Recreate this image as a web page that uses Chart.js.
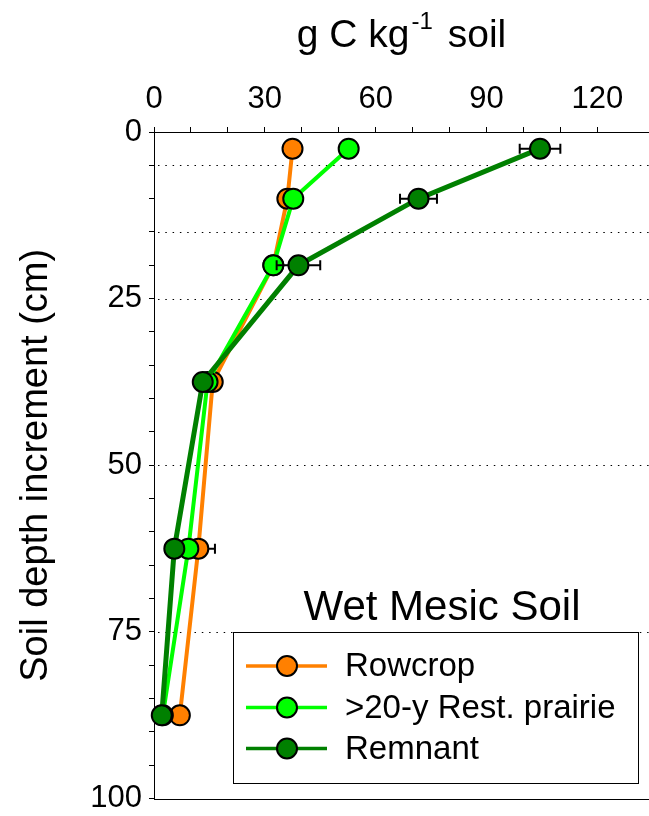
<!DOCTYPE html>
<html>
<head>
<meta charset="utf-8">
<script src="https://cdn.jsdelivr.net/npm/chart.js@4/dist/chart.umd.min.js"></script>
<style>
  html, body { margin: 0; padding: 0; background: #ffffff; }
  canvas { display: block; }
</style>
</head>
<body>
<canvas id="soilC" width="649" height="816"></canvas>
<script>
// Soil carbon (g C per kg soil) by depth increment, wet mesic soil
const depthMidpoints = [2.5, 10, 20, 37.5, 62.5, 87.5];
const incrementBoundaries = [5, 15, 25, 50, 75];
const seriesNames = ['Rowcrop', '>20-y Rest. prairie', 'Remnant'];
const rowcropC = [37.5, 36.1, 32.3, 15.9, 12.0, 7.0];
const prairieC = [52.7, 37.7, 32.3, 14.5, 9.3, 2.4];
const remnantC = [104.5, 71.6, 39.1, 13.2, 5.5, 2.1];
const rowcropErr = [0, 0, 0, 0, 4.5, 0];
const prairieErr = [0, 0, 0, 0, 0, 0];
const remnantErr = [5.5, 5.0, 5.9, 0, 0, 0];
const xTickLabels = [0, 30, 60, 90, 120];
const yTickLabels = [0, 25, 50, 75, 100];

const seriesColors = ['#FF8000', '#00FF00', '#008000'];
const seriesValues = [rowcropC, prairieC, remnantC];
const seriesErrors = [rowcropErr, prairieErr, remnantErr];
const lineWidths = [4, 4, 5];
const FONT = '"Liberation Sans", Arial, Helvetica, sans-serif';

const toPoints = vals => vals.map((v, i) => ({ x: v, y: depthMidpoints[i] }));

const datasets = seriesNames.map((name, i) => ({
  label: name,
  data: toPoints(seriesValues[i]),
  showLine: true,
  borderColor: seriesColors[i],
  borderWidth: lineWidths[i],
  backgroundColor: seriesColors[i],
  pointBackgroundColor: seriesColors[i],
  pointBorderColor: '#000000',
  pointBorderWidth: 2,
  pointRadius: 10,
  pointHoverRadius: 10,
  tension: 0,
  order: 3 - i,           // later series are painted on top
  clip: false
}));

const decor = {
  id: 'decor',
  beforeDatasetsDraw(chart) {
    const { ctx, chartArea: a, scales: { y } } = chart;
    ctx.save();
    // dotted lines at depth increment boundaries
    ctx.strokeStyle = '#000000';
    ctx.lineWidth = 1;
    ctx.setLineDash([1.5, 5.8]);
    incrementBoundaries.forEach(d => {
      const py = Math.round(y.getPixelForValue(d)) + 0.5;
      ctx.beginPath();
      ctx.moveTo(a.left + 4, py);
      ctx.lineTo(a.right, py);
      ctx.stroke();
    });
    ctx.setLineDash([]);
    // bottom frame line
    const pb = Math.round(y.getPixelForValue(100)) + 0.5;
    ctx.beginPath();
    ctx.moveTo(a.left, pb);
    ctx.lineTo(a.right, pb);
    ctx.stroke();
    ctx.restore();
  },
  beforeDatasetDraw(chart, args) {
    // horizontal error bars, beneath this series' own markers
    const errs = seriesErrors[args.index];
    const vals = seriesValues[args.index];
    const { ctx, scales: { x, y } } = chart;
    ctx.save();
    ctx.strokeStyle = '#000000';
    ctx.lineWidth = 2;
    errs.forEach((e, j) => {
      if (!e) return;
      const py = y.getPixelForValue(depthMidpoints[j]);
      const x1 = x.getPixelForValue(vals[j] - e);
      const x2 = x.getPixelForValue(vals[j] + e);
      ctx.beginPath();
      ctx.moveTo(x1, py); ctx.lineTo(x2, py);
      ctx.moveTo(x1, py - 5); ctx.lineTo(x1, py + 5);
      ctx.moveTo(x2, py - 5); ctx.lineTo(x2, py + 5);
      ctx.stroke();
    });
    ctx.restore();
  },
  afterDatasetsDraw(chart) {
    const { ctx, chartArea: a, scales: { y } } = chart;
    ctx.save();
    // panel label
    ctx.fillStyle = '#000000';
    ctx.font = '42px ' + FONT;
    ctx.textAlign = 'center';
    ctx.textBaseline = 'alphabetic';
    ctx.fillText('Wet Mesic Soil', a.right - 207, 620);

    // legend box
    const bl = a.left + 79, br = a.right - 11;
    const bt = Math.round(y.getPixelForValue(75)) + 0.5, bb = a.bottom - 15.5;
    ctx.fillStyle = '#ffffff';
    ctx.fillRect(bl, bt, br - bl, bb - bt);
    ctx.strokeStyle = '#000000';
    ctx.lineWidth = 1;
    ctx.strokeRect(Math.round(bl) + 0.5, bt, Math.round(br - bl), Math.round(bb - bt));

    const rowY = [bt + 33.5, bt + 75, bt + 116];
    const lx1 = bl + 13, lx2 = bl + 94, mx = bl + 54, tx = bl + 112;
    seriesNames.forEach((name, i) => {
      const ry = rowY[i];
      ctx.strokeStyle = seriesColors[i];
      ctx.lineWidth = 3.5;
      ctx.beginPath();
      ctx.moveTo(lx1, ry); ctx.lineTo(lx2, ry);
      ctx.stroke();
      ctx.beginPath();
      ctx.arc(mx, ry, 10, 0, Math.PI * 2);
      ctx.fillStyle = seriesColors[i];
      ctx.fill();
      ctx.lineWidth = 2;
      ctx.strokeStyle = '#000000';
      ctx.stroke();
      ctx.fillStyle = '#000000';
      ctx.font = '33px ' + FONT;
      ctx.textAlign = 'left';
      ctx.textBaseline = 'middle';
      ctx.fillText(name, tx, ry + 1);
    });
    ctx.restore();
  },
  afterDraw(chart) {
    const { ctx, chartArea: a } = chart;
    ctx.save();
    ctx.fillStyle = '#000000';
    ctx.textBaseline = 'alphabetic';
    ctx.textAlign = 'left';
    // x-axis title with superscript
    const big = '39px ' + FONT, small = '24px ' + FONT;
    const p1 = 'g C kg', p2 = '-1', p3 = ' soil';
    ctx.font = big;
    const w1 = ctx.measureText(p1).width, w3 = ctx.measureText(p3).width;
    ctx.font = small;
    const w2 = ctx.measureText(p2).width;
    const gap = 4;
    const total = w1 + 2 + w2 + gap + w3;
    let sx = (a.left + a.right) / 2 - total / 2;
    const base = 47;
    ctx.font = big;
    ctx.fillText(p1, sx, base);
    ctx.font = small;
    ctx.fillText(p2, sx + w1 + 2, base - 18);
    ctx.font = big;
    ctx.fillText(p3, sx + w1 + 2 + w2 + gap, base);

    // y-axis title
    ctx.font = '38px ' + FONT;
    ctx.textAlign = 'center';
    ctx.translate(47, (a.top + a.bottom) / 2);
    ctx.rotate(-Math.PI / 2);
    ctx.fillText('Soil depth increment (cm)', 0, 0);
    ctx.restore();
  }
};

new Chart(document.getElementById('soilC'), {
  type: 'scatter',
  data: { datasets },
  plugins: [decor],
  options: {
    responsive: false,
    maintainAspectRatio: false,
    animation: false,
    devicePixelRatio: 1,
    layout: { autoPadding: false, padding: { left: 0, right: 0, top: 0, bottom: 17.4 } },
    plugins: { legend: { display: false }, tooltip: { enabled: false } },
    scales: {
      x: {
        type: 'linear',
        position: 'top',
        min: 0,
        max: 134,
        afterBuildTicks: s => { s.ticks = s.ticks.filter(t => t.value % 10 === 0); },
        afterFit: s => { s.height = 132; s.paddingLeft = 0; s.paddingRight = 0; },
        ticks: {
          stepSize: 10,
          autoSkip: false,
          maxRotation: 0,
          padding: 9,
          color: '#000000',
          font: { family: FONT, size: 31 },
          callback: v => xTickLabels.includes(v) ? String(v) : ''
        },
        grid: { drawOnChartArea: false, drawTicks: true, tickLength: 5, tickColor: '#000000', tickWidth: 1 },
        border: { display: true, color: '#000000', width: 1 }
      },
      y: {
        type: 'linear',
        reverse: true,
        min: 0,
        max: 100,
        afterFit: s => { s.width = 154; s.paddingTop = 0; s.paddingBottom = 0; },
        ticks: {
          stepSize: 5,
          autoSkip: false,
          padding: 7,
          color: '#000000',
          font: { family: FONT, size: 31, lineHeight: 1.1 },
          callback: v => yTickLabels.includes(v) ? String(v) : ''
        },
        grid: { drawOnChartArea: false, drawTicks: true, tickLength: 5, tickColor: '#000000', tickWidth: 1 },
        border: { display: true, color: '#000000', width: 1 }
      }
    }
  }
});
</script>
</body>
</html>
